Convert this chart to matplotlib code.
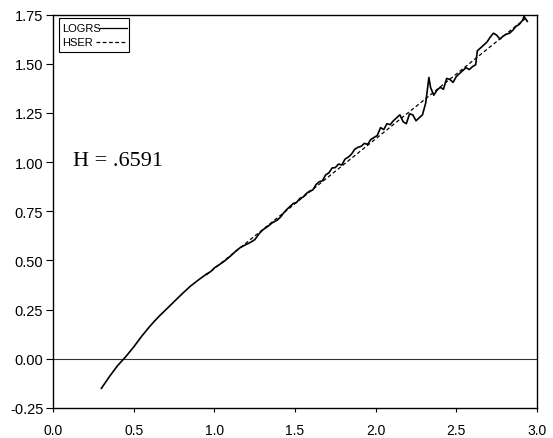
import matplotlib
matplotlib.use("Agg")
import matplotlib.pyplot as plt
from matplotlib.patches import Rectangle

# LOGRS series (log n vs log R/S)
logrs_x = [0.30, 0.35, 0.40, 0.45, 0.50, 0.55, 0.60, 0.65, 0.70, 0.75, 0.80, 0.85,
           0.90, 0.95, 0.98, 1.00, 1.03, 1.06, 1.10, 1.13, 1.16, 1.19, 1.22, 1.25,
           1.28, 1.30, 1.33, 1.36, 1.39, 1.41, 1.43, 1.45, 1.47, 1.49, 1.51, 1.53,
           1.55, 1.57, 1.59, 1.61, 1.63, 1.65, 1.67, 1.69, 1.71, 1.73, 1.75, 1.77,
           1.79, 1.81, 1.83, 1.85, 1.87, 1.89, 1.91, 1.93, 1.95, 1.97, 1.99, 2.01,
           2.03, 2.05, 2.07, 2.09, 2.11, 2.13, 2.15, 2.17, 2.19, 2.21, 2.23, 2.25,
           2.27, 2.29, 2.31, 2.33, 2.34, 2.36, 2.38, 2.40, 2.42, 2.44, 2.46, 2.48,
           2.50, 2.52, 2.54, 2.56, 2.58, 2.60, 2.62, 2.63, 2.65, 2.67, 2.69, 2.71,
           2.73, 2.75, 2.77, 2.79, 2.81, 2.83, 2.85, 2.87, 2.89, 2.91, 2.92, 2.94]
logrs_y = [-0.150, -0.090, -0.035, 0.010, 0.060, 0.115, 0.165, 0.210, 0.250, 0.290, 0.330, 0.368,
           0.400, 0.430, 0.445, 0.462, 0.478, 0.495, 0.522, 0.545, 0.565, 0.578, 0.590, 0.605,
           0.638, 0.655, 0.672, 0.692, 0.705, 0.720, 0.742, 0.760, 0.775, 0.790, 0.795, 0.815,
           0.822, 0.840, 0.852, 0.858, 0.885, 0.900, 0.905, 0.935, 0.945, 0.970, 0.972, 0.990,
           0.985, 1.015, 1.025, 1.040, 1.065, 1.075, 1.080, 1.095, 1.090, 1.115, 1.125, 1.135,
           1.175, 1.165, 1.195, 1.190, 1.210, 1.225, 1.240, 1.205, 1.195, 1.245, 1.240, 1.210,
           1.225, 1.240, 1.300, 1.430, 1.380, 1.340, 1.365, 1.380, 1.370, 1.425, 1.420, 1.405,
           1.435, 1.450, 1.465, 1.480, 1.470, 1.485, 1.495, 1.565, 1.580, 1.595, 1.610, 1.635,
           1.655, 1.645, 1.625, 1.640, 1.650, 1.655, 1.670, 1.690, 1.700, 1.720, 1.740, 1.715]

# HSER fitted line (slope H = .6591)
hser_x = [0.95, 2.93]
hser_y = [0.426, 1.731]

series_labels = ["LOGRS", "HSER"]
x_ticks = [0.0, 0.5, 1.0, 1.5, 2.0, 2.5, 3.0]
x_tick_labels = ["0.0", "0.5", "1.0", "1.5", "2.0", "2.5", "3.0"]
y_ticks = [-0.25, 0.0, 0.25, 0.5, 0.75, 1.0, 1.25, 1.5, 1.75]
y_tick_labels = ["-0.25", "0.00", "0.25", "0.50", "0.75", "1.00", "1.25", "1.50", "1.75"]

plt.rcParams['font.family'] = ['Liberation Sans', 'DejaVu Sans']

fig = plt.figure(figsize=(5.53, 4.39), dpi=100)
ax = fig.add_axes([53 / 553, 1 - 409 / 439, 484 / 553, 393.5 / 439])

ax.axhline(0.0, color="#333333", linewidth=0.8, zorder=1)
ax.plot(logrs_x, logrs_y, color="black", linewidth=1.2, zorder=3)
ax.plot(hser_x, hser_y, color="black", linewidth=0.9, linestyle=(0, (3, 2)), zorder=2)

ax.set_xlim(0.0, 3.0)
ax.set_ylim(-0.25, 1.75)
ax.set_xticks(x_ticks)
ax.set_xticklabels(x_tick_labels, fontsize=10)
ax.set_yticks(y_ticks)
ax.set_yticklabels(y_tick_labels, fontsize=10.5)
ax.tick_params(axis="x", direction="out", length=3, width=0.8, pad=8)
ax.tick_params(axis="y", direction="out", length=5, width=0.8, pad=2)

for s in ax.spines.values():
    s.set_color("black")
    s.set_linewidth(1.0)

ax.text(0.122, 0.986, "H = .6591", family=["Liberation Serif", "DejaVu Serif"],
        fontsize=16, ha="left", va="baseline")

# Legend box (label first, then line sample)
ax.add_patch(Rectangle((0.0118, 0.904), 0.145, 0.087, transform=ax.transAxes,
                       facecolor="white", edgecolor="black", linewidth=0.8, zorder=5))
leg_y = [0.965, 0.929]
leg_styles = ["-", (0, (3, 2))]
leg_line_x0 = [0.097, 0.089]
for lab, yy, ls, x0 in zip(series_labels, leg_y, leg_styles, leg_line_x0):
    ax.text(0.019, yy, lab, transform=ax.transAxes, fontsize=8, ha="left",
            va="center", zorder=6)
    ax.plot([x0, 0.153], [yy, yy], transform=ax.transAxes, color="black",
            linewidth=0.9, linestyle=ls, zorder=6)

fig.savefig("out.png", dpi=100)
